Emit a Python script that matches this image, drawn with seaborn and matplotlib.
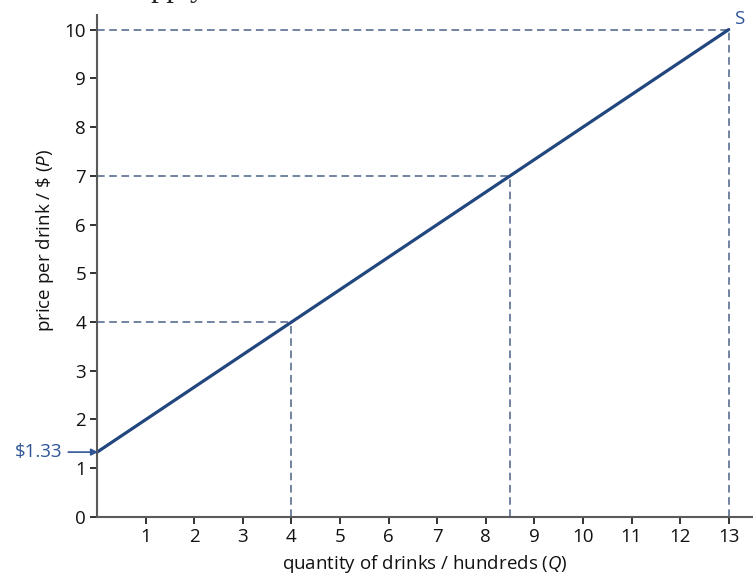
import matplotlib
matplotlib.use("Agg")
import matplotlib.pyplot as plt
import seaborn as sns
import pandas as pd

# supply curve and reference points
quantity = [0, 13]
price = [1.33, 10]
ref_q = [4, 8.5, 13]
ref_p = [4, 7, 10]
x_ticks = list(range(1, 14))
y_ticks = list(range(0, 11))

sns.set_theme(style="white")
plt.rcParams["font.family"] = ["Open Sans", "DejaVu Sans"]
plt.rcParams["mathtext.fontset"] = "custom"
plt.rcParams["mathtext.it"] = "Open Sans:italic"
plt.rcParams["mathtext.rm"] = "Open Sans"

LINE = "#22467e"
DASH = "#4a6285"
AXIS = "#5a5a5a"

fig, ax = plt.subplots(figsize=(7.53, 5.75), dpi=100)
fig.subplots_adjust(left=0.129, right=1.0, bottom=0.101, top=0.974)

df = pd.DataFrame({"Q": quantity, "P": price})
sns.lineplot(data=df, x="Q", y="P", color=LINE, lw=2.3, ax=ax)

# dashed guides
for q, p in zip(ref_q, ref_p):
    ax.plot([0, q], [p, p], ls=(0, (5, 3)), color=DASH, lw=1.1, zorder=1)
    ax.plot([q, q], [0, p], ls=(0, (5, 3)), color=DASH, lw=1.1, zorder=1)

ax.set_xlim(0, 13.5)
ax.set_ylim(0, 10.3)
ax.set_xticks(x_ticks)
ax.set_yticks(y_ticks)
ax.tick_params(axis="both", length=5, width=1.3, color="#222222",
               labelsize=13.5, labelcolor="#111111", direction="out",
               bottom=True, left=True, pad=3)

for side in ["top", "right"]:
    ax.spines[side].set_visible(False)
for side in ["left", "bottom"]:
    ax.spines[side].set_color(AXIS)
    ax.spines[side].set_linewidth(1.5)

ax.set_xlabel("quantity of drinks / hundreds ($Q$)", fontsize=13.5,
              color="#111111", labelpad=5)
ax.set_ylabel("price per drink / \\$ ($P$)", fontsize=13.5, color="#111111")
ax.yaxis.set_label_coords(-0.062, 0.55)

ax.annotate("S", xy=(13, 10), xytext=(13.12, 10.03), color="#2f5597",
            fontsize=13.5, ha="left", va="bottom")
ax.annotate("$1.33", xy=(0.02, 1.33), xytext=(-0.72, 1.33),
            color="#2f5597", fontsize=13.5, ha="right", va="center",
            annotation_clip=False,
            arrowprops=dict(arrowstyle="-|>", color="#2f5597", lw=1.2,
                            mutation_scale=10, shrinkA=2, shrinkB=0))

fig.text(0.215, 1.02, "Supply", fontsize=22, ha="center", va="center",
         color="#222222", family="Liberation Serif")

fig.savefig("out.png", dpi=100)
